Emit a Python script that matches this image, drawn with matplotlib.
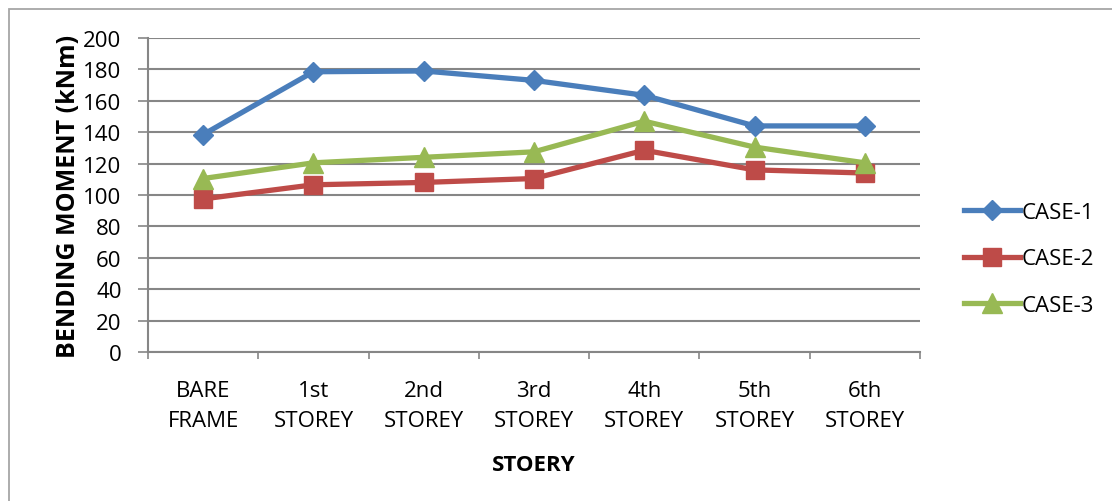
import matplotlib.pyplot as plt
from matplotlib.patches import Rectangle

categories = ['BARE\nFRAME', '1st\nSTOREY', '2nd\nSTOREY', '3rd\nSTOREY',
              '4th\nSTOREY', '5th\nSTOREY', '6th\nSTOREY']
case1 = [138.5, 178.5, 179, 173, 163.5, 144, 144]
case2 = [97.5, 106.5, 108, 110.5, 128.5, 116, 114]
case3 = [110.5, 120.5, 124, 127.5, 147, 130.5, 120.5]
y_ticks = [0, 20, 40, 60, 80, 100, 120, 140, 160, 180, 200]

plt.rcParams['font.family'] = ['Open Sans', 'DejaVu Sans']

fig = plt.figure(figsize=(11.12, 5.02), dpi=100)
ax = fig.add_axes([148 / 1112, 1 - 353 / 502, (920 - 148) / 1112, (353 - 39) / 502])

# outer chart border
fig.patches.append(Rectangle((9 / 1112, -0.1), 1.2, 1.1 - 10 / 502,
                             transform=fig.transFigure, fill=False,
                             edgecolor='#a6a6a6', linewidth=1.3))

x = list(range(len(categories)))
ax.plot(x, case1, color='#4a7ebb', lw=3.8, marker='D', ms=10, label='CASE-1')
ax.plot(x, case2, color='#be4b48', lw=3.8, marker='s', ms=13, label='CASE-2')
ax.plot(x, case3, color='#98b954', lw=3.8, marker='^', ms=14, label='CASE-3')

fs = 16
ax.set_xlim(-0.5, len(categories) - 0.5)
ax.set_ylim(0, 200)
ax.set_yticks(y_ticks)
ax.set_xticks(x)
ax.set_xticklabels(categories, fontsize=fs, linespacing=1.6)
ax.set_xticks([i - 0.5 for i in range(len(categories) + 1)], minor=True)
ax.tick_params(axis='x', which='major', length=0, pad=20)
ax.tick_params(axis='x', which='minor', length=5, width=1.2, color='#868686')
ax.tick_params(axis='y', length=7, width=1.2, color='#868686', labelsize=fs, pad=12)

ax.grid(axis='y', color='#868686', linewidth=1.5)
ax.set_axisbelow(True)
for s in ['top', 'right']:
    ax.spines[s].set_visible(False)
for s in ['left', 'bottom']:
    ax.spines[s].set_color('#868686')
    ax.spines[s].set_linewidth(1.5)

ax.set_ylabel('BENDING MOMENT (kNm)', fontsize=18, fontweight='bold', labelpad=2)
ax.set_xlabel('STOERY', fontsize=fs, fontweight='bold', labelpad=16)

fig.legend(loc='center left', bbox_to_anchor=(944 / 1112, 1 - 260 / 502),
           frameon=False, fontsize=fs, handlelength=2.5, handletextpad=0.1,
           labelspacing=1.15)

plt.savefig('out.png', dpi=100)
plt.close()
